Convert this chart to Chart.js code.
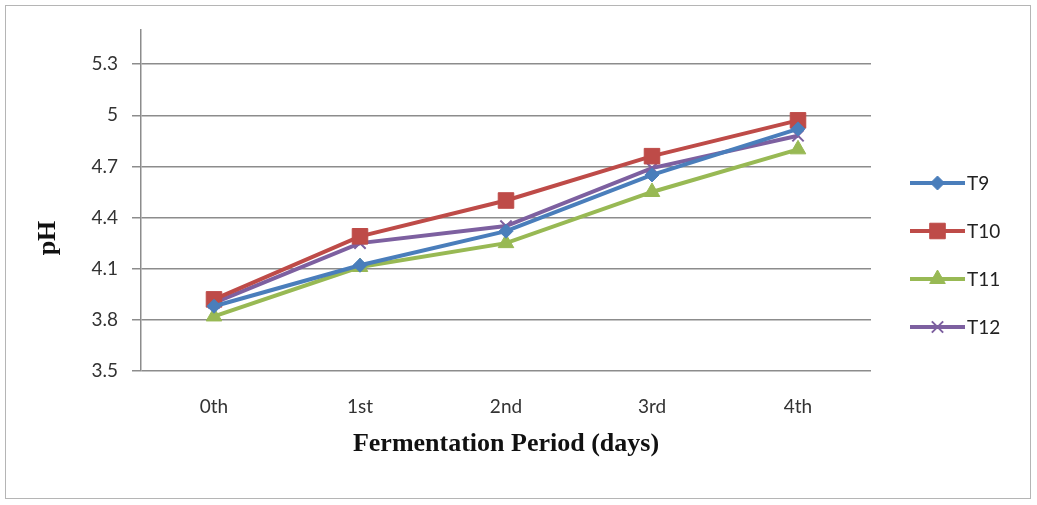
<!DOCTYPE html>
<html>
<head>
<meta charset="utf-8">
<script src="https://cdn.jsdelivr.net/npm/chart.js@4"></script>
<style>
  html, body { margin: 0; padding: 0; background: #fff; }
  #wrap { position: relative; width: 1037px; height: 505px; }
  #frame { position: absolute; left: 5px; top: 5px; width: 1024px; height: 492px; border: 1.5px solid #b5b5b5; pointer-events: none; }
</style>
</head>
<body>
<div id="wrap">
  <canvas id="phChart" width="1037" height="505"></canvas>
  <div id="frame"></div>
</div>
<script>
const days = ['0th', '1st', '2nd', '3rd', '4th'];
const yTicks = [3.5, 3.8, 4.1, 4.4, 4.7, 5, 5.3];
const t9 = [3.88, 4.12, 4.32, 4.65, 4.92];
const t10 = [3.92, 4.29, 4.50, 4.76, 4.97];
const t11 = [3.82, 4.11, 4.25, 4.55, 4.80];
const t12 = [3.90, 4.25, 4.35, 4.69, 4.88];

const tickFont = { family: 'Lato, "Open Sans", sans-serif', size: 19 };

// Excel-style legend at the right: line with marker in the middle
const sideLegend = {
  id: 'sideLegend',
  afterDraw(chart) {
    const ctx = chart.ctx;
    const x0 = 910, x1 = 965;
    chart.data.datasets.forEach((ds, i) => {
      const y = 183 + i * 48;
      ctx.save();
      ctx.strokeStyle = ds.borderColor;
      ctx.lineWidth = 4;
      ctx.beginPath();
      ctx.moveTo(x0, y);
      ctx.lineTo(x1, y);
      ctx.stroke();
      ctx.fillStyle = ds.pointBackgroundColor;
      ctx.strokeStyle = ds.pointBorderColor;
      ctx.lineWidth = ds.pointBorderWidth;
      Chart.helpers.drawPoint(ctx, {
        pointStyle: ds.pointStyle,
        radius: ds.pointRadius,
        rotation: 0,
        borderWidth: ds.pointBorderWidth
      }, (x0 + x1) / 2, y);
      ctx.fillStyle = '#222';
      ctx.font = '19px ' + tickFont.family;
      ctx.textBaseline = 'middle';
      ctx.textAlign = 'left';
      ctx.fillText(ds.label, x1 + 2, y + 1);
      ctx.restore();
    });
    // y axis title
    ctx.save();
    ctx.translate(48, 238);
    ctx.rotate(-Math.PI / 2);
    ctx.fillStyle = '#111';
    ctx.font = 'bold 26px "Liberation Serif", serif';
    ctx.textAlign = 'center';
    ctx.textBaseline = 'middle';
    ctx.fillText('pH', 0, 0);
    ctx.restore();
  }
};

function series(label, data, color, style, radius) {
  return {
    label: label,
    data: data,
    borderColor: color,
    backgroundColor: color,
    borderWidth: 4,
    pointStyle: style,
    pointRadius: radius,
    pointHoverRadius: radius,
    pointBackgroundColor: color,
    pointBorderColor: color,
    pointBorderWidth: style === 'crossRot' ? 2 : 1,
    tension: 0
  };
}

new Chart(document.getElementById('phChart'), {
  type: 'line',
  data: {
    labels: days,
    datasets: [
      series('T9', t9, '#4a7ebb', 'rectRot', 7),
      series('T10', t10, '#be4b48', 'rect', 11),
      series('T11', t11, '#98b954', 'triangle', 9),
      series('T12', t12, '#7d60a0', 'crossRot', 8)
    ]
  },
  options: {
    responsive: false,
    animation: false,
    layout: { padding: { left: 0, top: 30, right: 166, bottom: 0 } },
    plugins: {
      legend: { display: false },
      tooltip: { enabled: false }
    },
    scales: {
      x: {
        offset: true,
        grid: { display: false, drawTicks: false },
        border: { display: false },
        ticks: { color: '#333', font: tickFont, padding: 24 },
        title: {
          display: true,
          text: 'Fermentation Period (days)',
          color: '#111',
          font: { family: '"Liberation Serif", serif', size: 26, weight: 'bold' },
          padding: { top: 0, bottom: 45 }
        },
        afterFit(scale) { scale.height = 134; }
      },
      y: {
        min: 3.5,
        max: 5.5,
        grid: { color: '#8c8c8c', lineWidth: 1.5, tickLength: 9, tickColor: '#8c8c8c' },
        border: { display: true, color: '#8c8c8c', width: 1.5 },
        ticks: {
          color: '#333',
          font: tickFont,
          padding: 14,
          callback: v => Math.round(v * 10) / 10
        },
        afterBuildTicks(scale) {
          scale.ticks = yTicks.map(v => ({ value: v }));
        },
        afterFit(scale) { scale.width = 141; }
      }
    }
  },
  plugins: [sideLegend]
});
</script>
</body>
</html>
